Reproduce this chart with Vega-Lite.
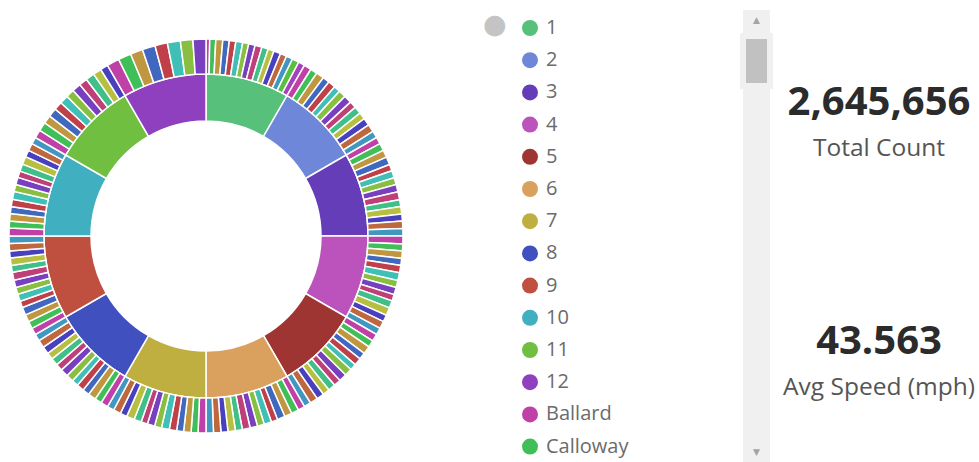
{
  "$schema": "https://vega.github.io/schema/vega-lite/v6.json",
  "padding": {"top": 10, "left": 0, "right": 0, "bottom": 0},
  "background": "white",
  "bounds": "flush",
  "spacing": 331,
  "config": {"view": {"stroke": null}, "font": "Open Sans"},
  "datasets": {
    "rings": [
      {"month": 1, "county": "Ballard", "v": 8}, {"month": 1, "county": "Calloway", "v": 13}, {"month": 1, "county": "Carlisle", "v": 15}, {"month": 1, "county": "Crittenden", "v": 14}, {"month": 1, "county": "Fulton", "v": 14}, {"month": 1, "county": "Graves", "v": 15}, {"month": 1, "county": "Hickman", "v": 13}, {"month": 1, "county": "Livingston", "v": 14}, {"month": 1, "county": "Lyon", "v": 15}, {"month": 1, "county": "Marshall", "v": 14}, {"month": 1, "county": "McCracken", "v": 13}, {"month": 1, "county": "Muhlenberg", "v": 15}, {"month": 1, "county": "Ohio", "v": 14}, {"month": 1, "county": "Todd", "v": 14}, {"month": 1, "county": "Trigg", "v": 15}, {"month": 1, "county": "Union", "v": 14},
      {"month": 2, "county": "Ballard", "v": 16}, {"month": 2, "county": "Calloway", "v": 15}, {"month": 2, "county": "Carlisle", "v": 17}, {"month": 2, "county": "Crittenden", "v": 15}, {"month": 2, "county": "Fulton", "v": 16}, {"month": 2, "county": "Graves", "v": 14}, {"month": 2, "county": "Hickman", "v": 16}, {"month": 2, "county": "Livingston", "v": 17}, {"month": 2, "county": "Lyon", "v": 15}, {"month": 2, "county": "Marshall", "v": 16}, {"month": 2, "county": "McCracken", "v": 15}, {"month": 2, "county": "Muhlenberg", "v": 16}, {"month": 2, "county": "Ohio", "v": 17}, {"month": 2, "county": "Todd", "v": 15},
      {"month": 3, "county": "Ballard", "v": 15}, {"month": 3, "county": "Calloway", "v": 16}, {"month": 3, "county": "Carlisle", "v": 16}, {"month": 3, "county": "Crittenden", "v": 17}, {"month": 3, "county": "Fulton", "v": 14}, {"month": 3, "county": "Graves", "v": 16}, {"month": 3, "county": "Hickman", "v": 15}, {"month": 3, "county": "Livingston", "v": 16}, {"month": 3, "county": "Lyon", "v": 17}, {"month": 3, "county": "Marshall", "v": 15}, {"month": 3, "county": "McCracken", "v": 16}, {"month": 3, "county": "Muhlenberg", "v": 15}, {"month": 3, "county": "Ohio", "v": 16}, {"month": 3, "county": "Todd", "v": 16},
      {"month": 4, "county": "Ballard", "v": 17}, {"month": 4, "county": "Calloway", "v": 15}, {"month": 4, "county": "Carlisle", "v": 16}, {"month": 4, "county": "Crittenden", "v": 15}, {"month": 4, "county": "Fulton", "v": 16}, {"month": 4, "county": "Graves", "v": 17}, {"month": 4, "county": "Hickman", "v": 15}, {"month": 4, "county": "Livingston", "v": 16}, {"month": 4, "county": "Lyon", "v": 14}, {"month": 4, "county": "Marshall", "v": 16}, {"month": 4, "county": "McCracken", "v": 17}, {"month": 4, "county": "Muhlenberg", "v": 15}, {"month": 4, "county": "Ohio", "v": 16}, {"month": 4, "county": "Todd", "v": 15},
      {"month": 5, "county": "Ballard", "v": 16}, {"month": 5, "county": "Calloway", "v": 15}, {"month": 5, "county": "Carlisle", "v": 17}, {"month": 5, "county": "Crittenden", "v": 15}, {"month": 5, "county": "Fulton", "v": 16}, {"month": 5, "county": "Graves", "v": 14}, {"month": 5, "county": "Hickman", "v": 16}, {"month": 5, "county": "Livingston", "v": 17}, {"month": 5, "county": "Lyon", "v": 15}, {"month": 5, "county": "Marshall", "v": 16}, {"month": 5, "county": "McCracken", "v": 15}, {"month": 5, "county": "Muhlenberg", "v": 16}, {"month": 5, "county": "Ohio", "v": 17}, {"month": 5, "county": "Todd", "v": 15},
      {"month": 6, "county": "Ballard", "v": 15}, {"month": 6, "county": "Calloway", "v": 16}, {"month": 6, "county": "Carlisle", "v": 16}, {"month": 6, "county": "Crittenden", "v": 17}, {"month": 6, "county": "Fulton", "v": 14}, {"month": 6, "county": "Graves", "v": 16}, {"month": 6, "county": "Hickman", "v": 15}, {"month": 6, "county": "Livingston", "v": 16}, {"month": 6, "county": "Lyon", "v": 17}, {"month": 6, "county": "Marshall", "v": 15}, {"month": 6, "county": "McCracken", "v": 16}, {"month": 6, "county": "Muhlenberg", "v": 15}, {"month": 6, "county": "Ohio", "v": 16}, {"month": 6, "county": "Todd", "v": 16},
      {"month": 7, "county": "Ballard", "v": 17}, {"month": 7, "county": "Calloway", "v": 15}, {"month": 7, "county": "Carlisle", "v": 16}, {"month": 7, "county": "Crittenden", "v": 15}, {"month": 7, "county": "Fulton", "v": 16}, {"month": 7, "county": "Graves", "v": 17}, {"month": 7, "county": "Hickman", "v": 15}, {"month": 7, "county": "Livingston", "v": 16}, {"month": 7, "county": "Lyon", "v": 14}, {"month": 7, "county": "Marshall", "v": 16}, {"month": 7, "county": "McCracken", "v": 17}, {"month": 7, "county": "Muhlenberg", "v": 15}, {"month": 7, "county": "Ohio", "v": 16}, {"month": 7, "county": "Todd", "v": 15},
      {"month": 8, "county": "Ballard", "v": 16}, {"month": 8, "county": "Calloway", "v": 15}, {"month": 8, "county": "Carlisle", "v": 17}, {"month": 8, "county": "Crittenden", "v": 15}, {"month": 8, "county": "Fulton", "v": 16}, {"month": 8, "county": "Graves", "v": 14}, {"month": 8, "county": "Hickman", "v": 16}, {"month": 8, "county": "Livingston", "v": 17}, {"month": 8, "county": "Lyon", "v": 15}, {"month": 8, "county": "Marshall", "v": 16}, {"month": 8, "county": "McCracken", "v": 15}, {"month": 8, "county": "Muhlenberg", "v": 16}, {"month": 8, "county": "Ohio", "v": 17}, {"month": 8, "county": "Todd", "v": 15},
      {"month": 9, "county": "Ballard", "v": 15}, {"month": 9, "county": "Calloway", "v": 16}, {"month": 9, "county": "Carlisle", "v": 16}, {"month": 9, "county": "Crittenden", "v": 17}, {"month": 9, "county": "Fulton", "v": 14}, {"month": 9, "county": "Graves", "v": 16}, {"month": 9, "county": "Hickman", "v": 15}, {"month": 9, "county": "Livingston", "v": 16}, {"month": 9, "county": "Lyon", "v": 17}, {"month": 9, "county": "Marshall", "v": 15}, {"month": 9, "county": "McCracken", "v": 16}, {"month": 9, "county": "Muhlenberg", "v": 15}, {"month": 9, "county": "Ohio", "v": 16}, {"month": 9, "county": "Todd", "v": 16},
      {"month": 10, "county": "Ballard", "v": 17}, {"month": 10, "county": "Calloway", "v": 15}, {"month": 10, "county": "Carlisle", "v": 16}, {"month": 10, "county": "Crittenden", "v": 15}, {"month": 10, "county": "Fulton", "v": 16}, {"month": 10, "county": "Graves", "v": 17}, {"month": 10, "county": "Hickman", "v": 15}, {"month": 10, "county": "Livingston", "v": 16}, {"month": 10, "county": "Lyon", "v": 14}, {"month": 10, "county": "Marshall", "v": 16}, {"month": 10, "county": "McCracken", "v": 17}, {"month": 10, "county": "Muhlenberg", "v": 15}, {"month": 10, "county": "Ohio", "v": 16}, {"month": 10, "county": "Todd", "v": 15},
      {"month": 11, "county": "Ballard", "v": 18}, {"month": 11, "county": "Calloway", "v": 19}, {"month": 11, "county": "Carlisle", "v": 18}, {"month": 11, "county": "Crittenden", "v": 19}, {"month": 11, "county": "Fulton", "v": 18}, {"month": 11, "county": "Graves", "v": 19}, {"month": 11, "county": "Hickman", "v": 18}, {"month": 11, "county": "Livingston", "v": 19}, {"month": 11, "county": "Lyon", "v": 18}, {"month": 11, "county": "Marshall", "v": 19}, {"month": 11, "county": "McCracken", "v": 18}, {"month": 11, "county": "Muhlenberg", "v": 17},
      {"month": 12, "county": "Ballard", "v": 27}, {"month": 12, "county": "Calloway", "v": 28}, {"month": 12, "county": "Carlisle", "v": 27}, {"month": 12, "county": "Crittenden", "v": 28}, {"month": 12, "county": "Fulton", "v": 27}, {"month": 12, "county": "Graves", "v": 28}, {"month": 12, "county": "Hickman", "v": 27}, {"month": 12, "county": "Livingston", "v": 28}
    ],
    "metrics": [
      {"label": "Total Count", "value": 2645656},
      {"label": "Avg Speed (mph)", "value": 43.563}
    ],
    "scroll": [{"first_entry": 0, "last_entry": 14}],
    "arrows": [{"arrow": "▲", "end": "top"}, {"arrow": "▼", "end": "bottom"}]
  },
  "hconcat": [
    {
      "width": 412,
      "height": 452,
      "data": {"name": "rings"},
      "layer": [
        {
          "mark": {"type": "arc", "innerRadius": 115, "outerRadius": 162, "stroke": "#ffffff", "strokeWidth": 1.5},
          "encoding": {
            "theta": {"aggregate": "sum", "field": "v", "type": "quantitative", "stack": true},
            "order": {"field": "month", "type": "quantitative"},
            "color": {
              "field": "month",
              "type": "nominal",
              "scale": {
                "domain": [1, 2, 3, 4, 5, 6, 7, 8, 9, 10, 11, 12, "Ballard", "Calloway", "Carlisle", "Crittenden", "Fulton", "Graves", "Hickman", "Livingston", "Lyon", "Marshall", "McCracken", "Muhlenberg", "Ohio", "Todd", "Trigg", "Union"],
                "range": ["#57c17b", "#6f87d8", "#663db8", "#bc52bc", "#9e3533", "#daa05d", "#bfaf40", "#4050bf", "#bf5040", "#40afbf", "#70bf40", "#8f40bf", "#bf40a7", "#40bf58", "#bf9740", "#4068bf", "#bf4048", "#40bfb7", "#88bf40", "#7840bf", "#bf4078", "#40bf88", "#b7bf40", "#4840bf", "#bf6840", "#4097bf", "#58bf40", "#a740bf"]
              },
              "legend": {
                "values": [1, 2, 3, 4, 5, 6, 7, 8, 9, 10, 11, 12, "Ballard", "Calloway"],
                "orient": "none",
                "legendX": 483,
                "legendY": 8,
                "padding": 0,
                "title": "●",
                "titleOrient": "left",
                "titleAnchor": "start",
                "titleBaseline": "line-top",
                "titleLineHeight": 14,
                "titleFont": "DejaVu Sans",
                "titleFontSize": 27,
                "titleFontWeight": "normal",
                "titleColor": "#c4c4c4",
                "titlePadding": 13,
                "symbolType": "circle",
                "symbolSize": 256,
                "symbolStrokeWidth": 0,
                "symbolOpacity": 1,
                "labelFont": "Open Sans",
                "labelFontSize": 20,
                "labelColor": "#6b6b6b",
                "labelOffset": 6,
                "labelLimit": 300,
                "rowPadding": 12.2
              }
            }
          }
        },
        {
          "transform": [
            {"stack": "v", "groupby": [], "sort": [{"field": "month", "order": "ascending"}, {"field": "county", "order": "ascending"}], "as": ["t0", "t1"]}
          ],
          "mark": {"type": "arc", "innerRadius": 162, "outerRadius": 197, "stroke": "#ffffff", "strokeWidth": 1.5},
          "encoding": {
            "theta": {"field": "t0", "type": "quantitative"},
            "theta2": {"field": "t1"},
            "color": {"field": "county", "type": "nominal"}
          }
        }
      ]
    },
    {
      "spacing": 9,
      "bounds": "flush",
      "hconcat": [
        {
          "width": 27,
          "height": 452,
          "view": {"fill": "#f0f0f0", "stroke": null},
          "layer": [
            {
              "data": {"name": "scroll"},
              "mark": {"type": "rect", "fill": "#c1c1c1", "stroke": "#f0f0f0", "strokeWidth": 6},
              "encoding": {
                "y": {"field": "first_entry", "type": "quantitative", "scale": {"domain": [0, 116], "range": [26, 440]}, "axis": null},
                "y2": {"field": "last_entry"}
              }
            },
            {
              "data": {"name": "arrows"},
              "mark": {"type": "text", "fontSize": 9, "fill": "#a3a3a3", "font": "DejaVu Sans", "baseline": "middle"},
              "encoding": {
                "y": {"field": "end", "type": "nominal", "scale": {"type": "point", "padding": 0, "domain": ["top", "bottom"], "range": [10, 442]}, "axis": null},
                "text": {"field": "arrow"}
              }
            }
          ],
          "resolve": {"scale": {"y": "independent"}}
        },
        {
          "width": 200,
          "height": 452,
          "data": {"name": "metrics"},
          "layer": [
            {
              "mark": {"type": "text", "font": "Open Sans", "fontSize": 40, "fontWeight": "bold", "fill": "#2b2b2b", "baseline": "alphabetic"},
              "encoding": {
                "y": {"field": "label", "type": "nominal", "scale": {"type": "point", "padding": 0, "domain": ["Total Count", "Avg Speed (mph)"], "range": [105, 344]}, "axis": null},
                "text": {"field": "value", "type": "quantitative", "format": ","}
              }
            },
            {
              "mark": {"type": "text", "font": "Open Sans", "fontSize": 24.5, "fill": "#555555", "baseline": "alphabetic", "dy": 41},
              "encoding": {
                "y": {"field": "label", "type": "nominal", "axis": null},
                "text": {"field": "label", "type": "nominal"}
              }
            }
          ]
        }
      ]
    }
  ]
}
